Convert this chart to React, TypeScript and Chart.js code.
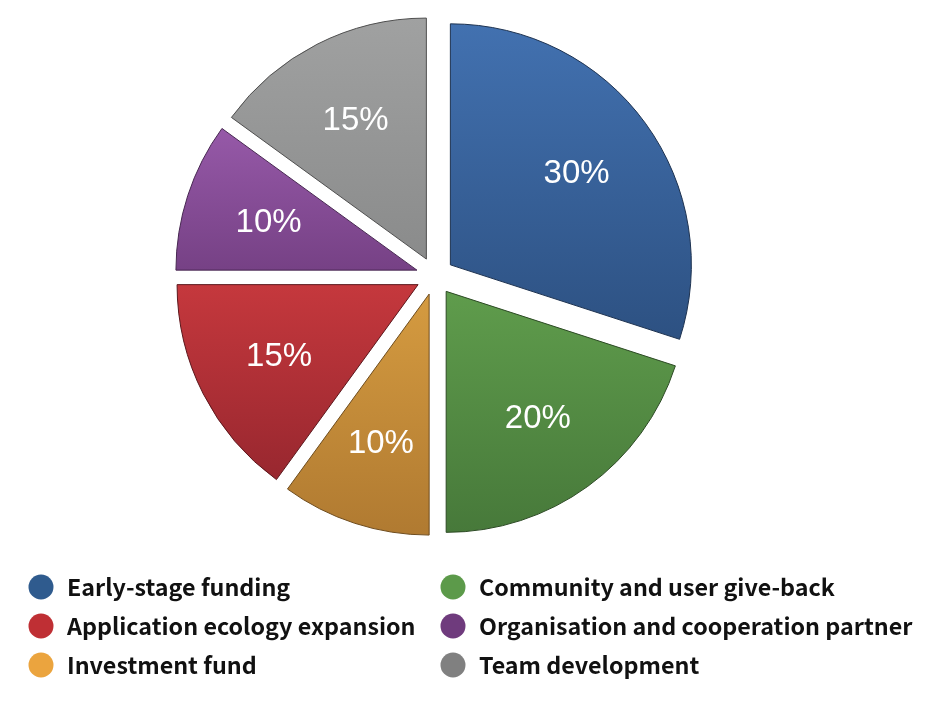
import React, { useEffect, useRef } from "react";
import { Chart, registerables } from "chart.js";

Chart.register(...registerables);

const labels = [
  "Early-stage funding",
  "Community and user give-back",
  "Investment fund",
  "Application ecology expansion",
  "Organisation and cooperation partner",
  "Team development",
];
const values = [30, 20, 10, 15, 10, 15];
const topColors = ["#4271b0", "#5f9c4c", "#d59b40", "#c5383d", "#9659a8", "#a0a1a1"];
const bottomColors = ["#2d5182", "#47793a", "#b07a31", "#98272f", "#764185", "#8a8b8b"];
const edgeColors = ["#1d3250", "#2c4a24", "#6e4c1e", "#5c171c", "#472751", "#4f4f4f"];
const legendColors = ["#2f5b8e", "#5c9a4a", "#eba43e", "#bf2f34", "#6f3b7d", "#808080"];
const legendColumns = [
  [0, 3, 2],
  [1, 4, 5],
];

const PIE_RADIUS = 241;
const EXPLODE = 19;
const LABEL_DIST = 156;

function sliceAngles(i: number) {
  const total = values.reduce((a, b) => a + b, 0);
  let start = -Math.PI / 2;
  for (let k = 0; k < i; k++) start += (values[k] / total) * Math.PI * 2;
  const end = start + (values[i] / total) * Math.PI * 2;
  return { start, end };
}

function shadedFill(context: any) {
  const chart = context.chart;
  const i = context.dataIndex;
  const area = chart.chartArea;
  if (!area || i === undefined) return topColors[i ?? 0];
  const { start, end } = sliceAngles(i);
  const cy = (area.top + area.bottom) / 2;
  let ymin = cy;
  let ymax = cy;
  const consider = (a: number) => {
    const y = cy + Math.sin(a) * PIE_RADIUS;
    ymin = Math.min(ymin, y);
    ymax = Math.max(ymax, y);
  };
  consider(start);
  consider(end);
  [-Math.PI / 2, Math.PI / 2, (3 * Math.PI) / 2].forEach((a) => {
    if (a > start && a < end) consider(a);
  });
  const g = chart.ctx.createLinearGradient(0, ymin, 0, ymax);
  g.addColorStop(0, topColors[i]);
  g.addColorStop(1, bottomColors[i]);
  return g;
}

// Draws each library arc element shifted outwards along its bisector (exploded pie)
const explodedSlices = {
  id: "explodedSlices",
  beforeDatasetsDraw(chart: any) {
    const ctx = chart.ctx;
    const meta = chart.getDatasetMeta(0);
    const total = values.reduce((a, b) => a + b, 0);
    meta.data.forEach((arc: any) => {
      const mid = (arc.startAngle + arc.endAngle) / 2;
      ctx.save();
      ctx.translate(Math.cos(mid) * EXPLODE, Math.sin(mid) * EXPLODE);
      arc.draw(ctx);
      ctx.restore();
    });
    ctx.save();
    ctx.fillStyle = "#ffffff";
    ctx.font = '33px "Liberation Sans", Arial, sans-serif';
    ctx.textAlign = "center";
    ctx.textBaseline = "middle";
    meta.data.forEach((arc: any, i: number) => {
      const mid = (arc.startAngle + arc.endAngle) / 2;
      const d = EXPLODE + LABEL_DIST;
      const x = arc.x + Math.cos(mid) * d;
      const y = arc.y + Math.sin(mid) * d + 1;
      ctx.fillText(Math.round((values[i] / total) * 100) + "%", x, y);
    });
    ctx.restore();
    return false;
  },
};

const customLegend = {
  id: "customLegend",
  afterDraw(chart: any) {
    const ctx = chart.ctx;
    const colX = [41, 453];
    const textX = [67, 479];
    const rowY = [587, 626, 665];
    ctx.save();
    ctx.font = 'bold 23.3px "Noto Sans CJK SC", "Noto Sans", sans-serif';
    ctx.textBaseline = "middle";
    ctx.textAlign = "left";
    legendColumns.forEach((col, c) => {
      col.forEach((idx, r) => {
        ctx.beginPath();
        ctx.arc(colX[c], rowY[r], 12.5, 0, Math.PI * 2);
        ctx.fillStyle = legendColors[idx];
        ctx.fill();
        ctx.fillStyle = "#111111";
        ctx.fillText(labels[idx], textX[c], rowY[r]);
      });
    });
    ctx.restore();
  },
};

export default function App() {
  const canvasRef = useRef<HTMLCanvasElement | null>(null);

  useEffect(() => {
    const canvas = canvasRef.current;
    if (!canvas) return;
    const chart = new Chart(canvas, {
      type: "pie",
      data: {
        labels,
        datasets: [
          {
            data: values,
            backgroundColor: shadedFill as any,
            borderColor: edgeColors,
            borderWidth: 1,
            offset: 0,
            hoverOffset: 0,
          },
        ],
      },
      options: {
        responsive: false,
        animation: false,
        radius: PIE_RADIUS,
        layout: { padding: { left: 0, top: 0, right: 68, bottom: 155 } },
        plugins: {
          legend: { display: false },
          tooltip: { enabled: false },
        },
        events: [],
      } as any,
      plugins: [explodedSlices, customLegend],
    });
    return () => chart.destroy();
  }, []);

  return (
    <div style={{ position: "absolute", left: 0, top: 0, width: 938, height: 707, background: "#ffffff" }}>
      <canvas ref={canvasRef} width={938} height={707} style={{ display: "block", width: 938, height: 707 }} />
    </div>
  );
}
